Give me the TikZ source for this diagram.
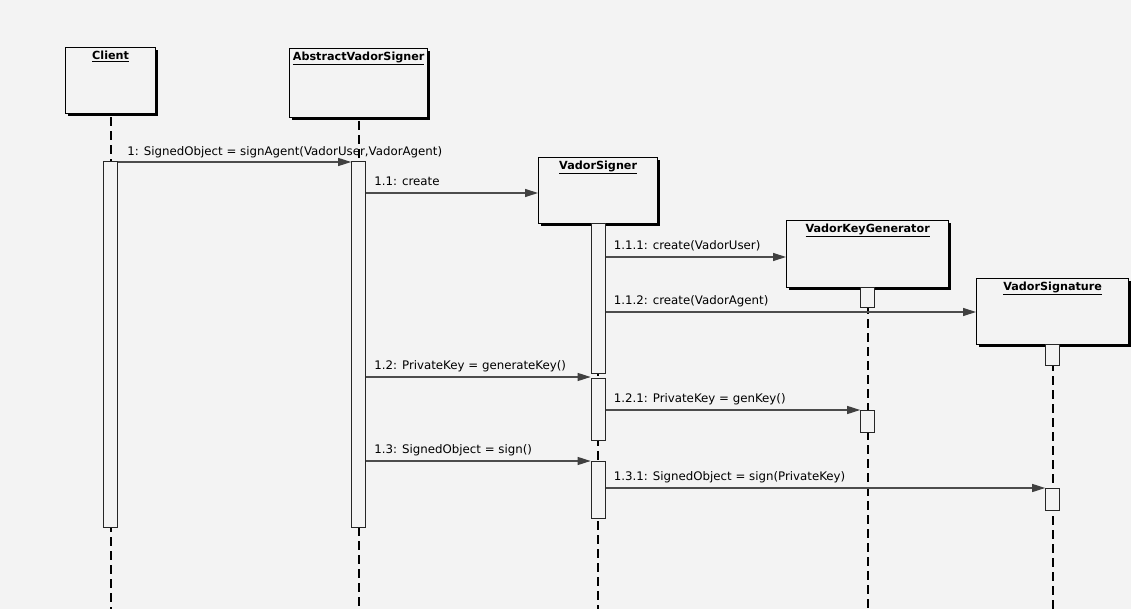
\documentclass[tikz,border=0pt]{standalone}
\usepackage{fontspec}
\setmainfont{DejaVu Sans}
\usetikzlibrary{arrows.meta,shadows}
\definecolor{paper}{RGB}{243,243,243}
\begin{document}
\begin{tikzpicture}[x=1pt,y=-1pt,
  objbox/.style={draw=black, line width=1.3pt, fill=paper, anchor=north west,
    inner sep=0pt, drop shadow={shadow xshift=2pt, shadow yshift=-2pt, fill=black, opacity=1}},
  objtitle/.style={font=\bfseries\fontsize{11.2}{13}\selectfont, anchor=north, inner sep=0pt},
  actbar/.style={draw=black!85, line width=1pt, fill=paper, minimum width=14pt,
    inner sep=0pt, anchor=north},
  life/.style={draw=black, line width=2pt, dash pattern=on 9pt off 5pt},
  msg/.style={draw=black!70, line width=1.2pt,
    -{Triangle[length=13pt,width=8pt,fill=black!75,color=black!75]}},
  msglabel/.style={font=\fontsize{11.8}{14}\selectfont, anchor=base west, inner sep=0pt}]

% page background
\fill[paper] (0,0) rectangle (1131,609);
\useasboundingbox (0,0) rectangle (1131,609);
\coordinate (bot) at (0,609);

% objects
\node[objbox, minimum width=90pt, minimum height=66pt] (client) at (65,47) {};
\node[objbox, minimum width=138pt, minimum height=69pt] (asigner) at (289,48) {};
\node[objbox, minimum width=119pt, minimum height=66pt] (vsigner) at (538,157) {};
\node[objbox, minimum width=162pt, minimum height=67pt] (vkg) at (786,220) {};
\node[objbox, minimum width=152pt, minimum height=66pt] (vsig) at (976,278) {};

\node[objtitle] (tclient) at ([yshift=-4pt]client.north) {\underline{Client}};
\node[objtitle] (tasigner) at ([yshift=-4pt]asigner.north) {\underline{AbstractVadorSigner}};
\node[objtitle] (tvsigner) at ([yshift=-4pt]vsigner.north) {\underline{VadorSigner}};
\node[objtitle] (tvkg) at ([yshift=-4pt]vkg.north) {\underline{VadorKeyGenerator}};
\node[objtitle] (tvsig) at ([yshift=-4pt]vsig.north) {\underline{VadorSignature}};

% lifelines
\foreach \o in {client,asigner,vsigner,vkg,vsig}
  \draw[life] ([yshift=-3pt]\o.south) -- (\o.south |- bot);

% activation bars
\node[actbar, minimum height=366pt] (clientA) at (client.south |- 0,161) {};
\node[actbar, minimum height=366pt] (asA) at (asigner.south |- 0,161) {};
\node[actbar, minimum height=150pt] (vsA) at (vsigner.south |- 0,223) {};
\node[actbar, minimum height=62pt] (vsB) at (vsigner.south |- 0,378) {};
\node[actbar, minimum height=57pt] (vsC) at (vsigner.south |- 0,461) {};
\node[actbar, minimum height=20pt] (vkgA) at (vkg.south |- 0,287) {};
\node[actbar, minimum height=22pt] (vkgB) at (vkg.south |- 0,410) {};
\node[actbar, minimum height=21pt] (vsigA) at (vsig.south |- 0,344) {};
\node[actbar, minimum height=22pt] (vsigB) at (vsig.south |- 0,488) {};

% message levels
\coordinate (m1) at (0,162);
\coordinate (m11) at (0,193);
\coordinate (m111) at (0,257);
\coordinate (m112) at (0,312);
\coordinate (m12) at (0,377);
\coordinate (m121) at (0,410);
\coordinate (m13) at (0,461);
\coordinate (m131) at (0,488);

% messages
\draw[msg] (clientA.east |- m1) -- (asA.west |- m1);
\draw[msg] (asA.east |- m11) -- (vsigner.west |- m11);
\draw[msg] (vsA.east |- m111) -- (vkg.west |- m111);
\draw[msg] (vsA.east |- m112) -- (vsig.west |- m112);
\draw[msg] (asA.east |- m12) -- (vsB.west |- m12);
\draw[msg] (vsB.east |- m121) -- (vkgB.west |- m121);
\draw[msg] (asA.east |- m13) -- (vsC.west |- m13);
\draw[msg] (vsC.east |- m131) -- (vsigB.west |- m131);

% message labels
\node[msglabel] (l1) at ([xshift=9pt,yshift=6pt]clientA.east |- m1) {1: SignedObject = signAgent(VadorUser,VadorAgent)};
\node[msglabel] (l11) at ([xshift=8pt,yshift=7pt]asA.east |- m11) {1.1: create};
\node[msglabel] (l111) at ([xshift=8pt,yshift=7pt]vsA.east |- m111) {1.1.1: create(VadorUser)};
\node[msglabel] (l112) at ([xshift=8pt,yshift=7pt]vsA.east |- m112) {1.1.2: create(VadorAgent)};
\node[msglabel] (l12) at ([xshift=8pt,yshift=8pt]asA.east |- m12) {1.2: PrivateKey = generateKey()};
\node[msglabel] (l121) at ([xshift=8pt,yshift=8pt]vsB.east |- m121) {1.2.1: PrivateKey = genKey()};
\node[msglabel] (l13) at ([xshift=8pt,yshift=8pt]asA.east |- m13) {1.3: SignedObject = sign()};
\node[msglabel] (l131) at ([xshift=8pt,yshift=8pt]vsC.east |- m131) {1.3.1: SignedObject = sign(PrivateKey)};
\end{tikzpicture}
\end{document}
